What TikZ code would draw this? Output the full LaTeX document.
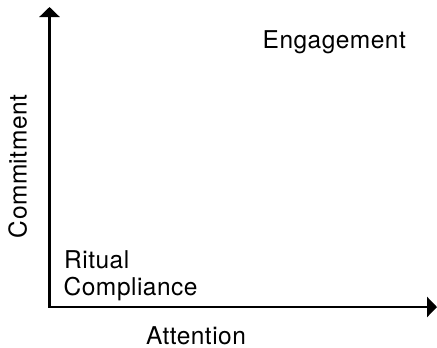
\documentclass[tikz,border=0pt]{standalone}
\usepackage{fontspec}
\setmainfont{TeX Gyre Heros}[LetterSpace=2]
\usetikzlibrary{arrows.meta}
\tikzset{
  axis/.style={line width=2.5bp, line join=miter, {Triangle[length=10bp,width=20bp]}-{Triangle[length=10bp,width=20bp]}},
  lbl/.style={inner sep=0pt, font=\fontsize{24.5bp}{29bp}\selectfont, text=black}
}
\begin{document}
\begin{tikzpicture}[x=1bp,y=-1bp]
\useasboundingbox (0,0) rectangle (437,347);
\coordinate (Y) at (49.5,7);
\coordinate (O) at (49.5,307);
\coordinate (X) at (437,307);
\draw[axis] (Y) -- (O) -- (X);
\node[lbl, anchor=base west] (eng) at (262.5,48) {Engagement};
\node[lbl, anchor=base west] (rit) at (64,268) {Ritual};
\node[lbl, anchor=base west] (com) at (63.5,295.5) {Compliance};
\node[lbl, anchor=base] (att) at (196,344) {Attention};
\node[lbl, anchor=base, rotate=90] (cmt) at (26.5,166.5) {Commitment};
\end{tikzpicture}
\end{document}
